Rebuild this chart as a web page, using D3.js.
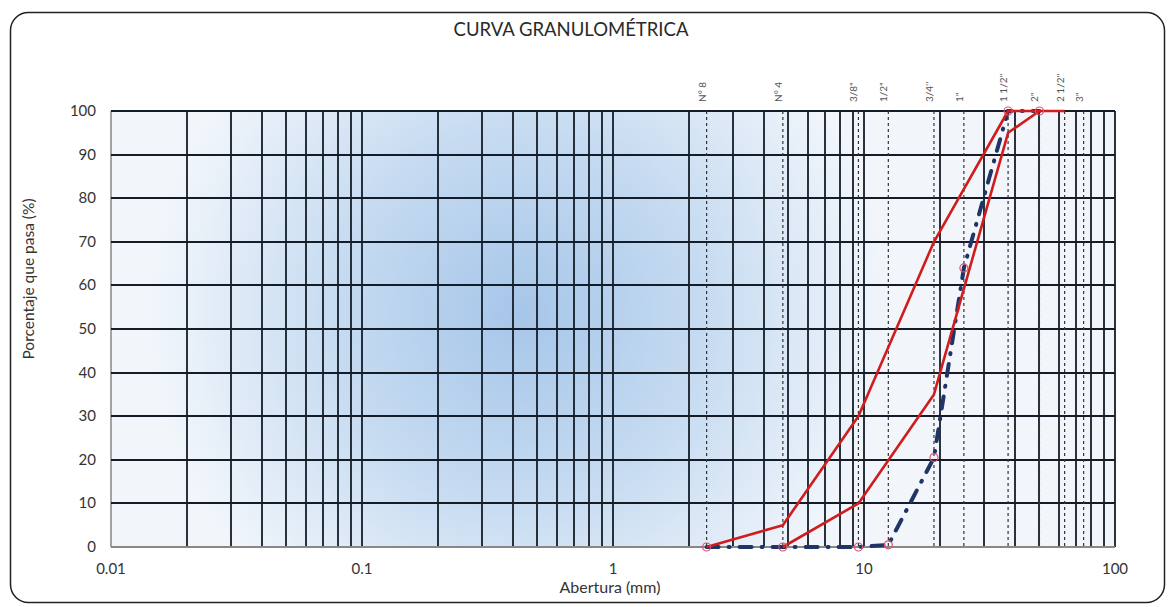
<!DOCTYPE html>
<html>
<head>
<meta charset="utf-8">
<script src="https://cdn.jsdelivr.net/npm/d3@7"></script>
<style>
  body { margin: 0; background: #fff; }
  text { font-family: Lato, "Open Sans", sans-serif; }
</style>
</head>
<body>
<svg id="chart" width="1171" height="607"></svg>
<script>
// sieve openings (mm) and their names
var sieveSizes = [2.36, 4.75, 9.5, 12.5, 19, 25, 37.5, 50, 63, 75];
var sieveNames = ["N° 8", "N° 4", "3/8\"", "1/2\"", "3/4''", "1\"", "1 1/2''", "2\"", "2 1/2''", "3\""];

// upper and lower limits of the spec band
var upperX = [2.36, 4.75, 9.5, 19, 37.5, 50, 63];
var upperY = [0, 5, 30, 70, 100, 100, 100];
var lowerX = [4.75, 9.5, 19, 37.5, 50];
var lowerY = [0, 10, 35, 95, 100];

// sample curve
var sampleX = [2.36, 4.75, 9.5, 12.5, 19, 25, 37.5, 50];
var sampleY = [0, 0, 0, 0.5, 20.5, 64, 100, 100];

var yTicks = [0, 10, 20, 30, 40, 50, 60, 70, 80, 90, 100];
var xTicks = [0.01, 0.1, 1, 10, 100];

var svg = d3.select("#chart"),
	pLeft = 111, pRight = 1115, pTop = 111, pBottom = 547;

var x = d3.scaleLog().domain([0.01, 100]).range([pLeft, pRight]);
var y = d3.scaleLinear().domain([0, 100]).range([pBottom, pTop]);

var defs = svg.append("defs");
var grad = defs.append("radialGradient")
	.attr("id", "bg")
	.attr("gradientUnits", "userSpaceOnUse")
	.attr("cx", 520).attr("cy", 315).attr("r", 370);
grad.append("stop").attr("offset", "0").attr("stop-color", "#a6c6e9");
grad.append("stop").attr("offset", "0.5").attr("stop-color", "#c6dbf1");
grad.append("stop").attr("offset", "1").attr("stop-color", "#f2f6fb");

// outer frame
svg.append("rect")
	.attr("x", 10.5).attr("y", 12.5)
	.attr("width", 1154).attr("height", 590)
	.attr("rx", 18)
	.attr("fill", "#fff")
	.attr("stroke", "#222")
	.attr("stroke-width", 1.5);

svg.append("rect")
	.attr("x", pLeft).attr("y", pTop)
	.attr("width", pRight - pLeft).attr("height", pBottom - pTop)
	.attr("fill", "url(#bg)");

// minor log grid 1..9 per decade
var vlines = [];
for (var e = -2; e < 2; e++) {
	for (var k = 1; k < 10; k++) vlines.push(k * Math.pow(10, e));
}
vlines.push(100);

var grid = svg.append("g");
grid.selectAll(".v").data(vlines).enter().append("line")
	.attr("x1", function(d) { return Math.round(x(d)); })
	.attr("x2", function(d) { return Math.round(x(d)); })
	.attr("y1", pTop).attr("y2", pBottom)
	.attr("stroke", function(d, i) { return i == 0 ? "#999" : "#141d27"; })
	.attr("stroke-width", 1.8);

grid.selectAll(".h").data(yTicks).enter().append("line")
	.attr("x1", pLeft).attr("x2", pRight)
	.attr("y1", function(d) { return Math.round(y(d)); })
	.attr("y2", function(d) { return Math.round(y(d)); })
	.attr("stroke", function(d) { return d == 0 ? "#888" : "#141d27"; })
	.attr("stroke-width", 1.8);

// sieve lines
svg.append("g").selectAll("line").data(sieveSizes).enter().append("line")
	.attr("x1", function(d) { return x(d); })
	.attr("x2", function(d) { return x(d); })
	.attr("y1", pTop).attr("y2", pBottom)
	.attr("stroke", "#333")
	.attr("stroke-width", 1.2)
	.attr("stroke-dasharray", "3,3");

svg.append("g").selectAll("text").data(sieveSizes).enter().append("text")
	.attr("transform", function(d) { return "translate(" + (x(d) - 1) + ",102) rotate(-90)"; })
	.attr("font-size", 10)
	.attr("fill", "#555")
	.text(function(d, i) { return sieveNames[i]; });

var line = d3.line()
	.x(function(d) { return x(d[0]); })
	.y(function(d) { return y(d[1]); });

// sample (dash-dot)
svg.append("path")
	.datum(d3.zip(sampleX, sampleY))
	.attr("d", line)
	.attr("fill", "none")
	.attr("stroke", "#1f3566")
	.attr("stroke-width", 4)
	.attr("stroke-linecap", "round")
	.attr("stroke-dasharray", "12,10,1,10");

[[upperX, upperY], [lowerX, lowerY]].forEach(function(s) {
	svg.append("path")
		.datum(d3.zip(s[0], s[1]))
		.attr("d", line)
		.attr("fill", "none")
		.attr("stroke", "#d01c1c")
		.attr("stroke-width", 2.6)
		.attr("stroke-linejoin", "round");
});

svg.append("g").selectAll("circle").data(d3.zip(sampleX, sampleY)).enter().append("circle")
	.attr("cx", function(d) { return x(d[0]); })
	.attr("cy", function(d) { return y(d[1]); })
	.attr("r", 4)
	.attr("fill", "none")
	.attr("stroke", "#e0506a")
	.attr("stroke-width", 1.2);

// axis labels
svg.append("g").selectAll("text").data(yTicks).enter().append("text")
	.attr("x", 96)
	.attr("y", function(d) { return y(d) + 5; })
	.attr("text-anchor", "end")
	.attr("font-size", 15)
	.attr("fill", "#333")
	.text(function(d) { return d; });

svg.append("g").selectAll("text").data(xTicks).enter().append("text")
	.attr("x", function(d) { return x(d); })
	.attr("y", 574)
	.attr("text-anchor", "middle")
	.attr("font-size", 15)
	.attr("fill", "#333")
	.text(function(d) { return d; });

svg.append("text")
	.attr("x", 610).attr("y", 593)
	.attr("text-anchor", "middle")
	.attr("font-size", 16)
	.attr("fill", "#333")
	.text("Abertura (mm)");

svg.append("text")
	.attr("transform", "translate(34,279) rotate(-90)")
	.attr("text-anchor", "middle")
	.attr("font-size", 15.5)
	.attr("fill", "#333")
	.text("Porcentaje que pasa (%)");

svg.append("text")
	.attr("x", 571).attr("y", 36)
	.attr("text-anchor", "middle")
	.attr("font-size", 18.5)
	.attr("fill", "#2a2a2a")
	.text("CURVA GRANULOMÉTRICA");
</script>
</body>
</html>
